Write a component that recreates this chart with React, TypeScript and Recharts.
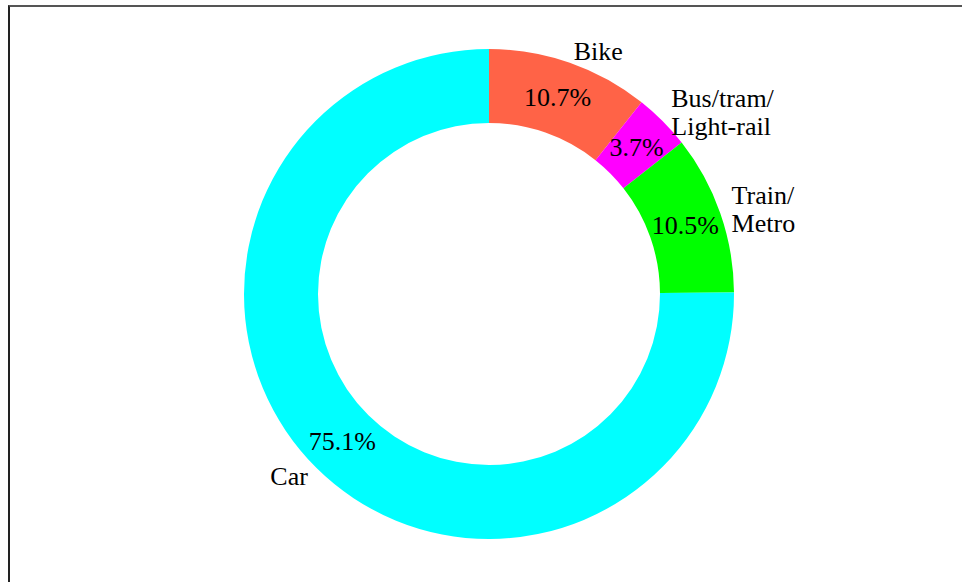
import { PieChart, Pie, Cell } from 'recharts';

const CATEGORIES = ['Bike', 'Bus/tram/\nLight-rail', 'Train/\nMetro', 'Car'];
const SHARES = [10.7, 3.7, 10.5, 75.1];
const COLORS = ['#ff6347', '#ff00ff', '#00ff00', '#00ffff'];

const data = CATEGORIES.map((name, i) => ({ name, value: SHARES[i] }));

const RAD = Math.PI / 180;
const FONT = '"Liberation Serif", "Times New Roman", serif';
const textStyle = { fontFamily: FONT, fontSize: 26, fill: '#000' };

function renderLabel(props: any) {
  const { cx, cy, midAngle, innerRadius, outerRadius, name, value } = props;
  const cos = Math.cos(-midAngle * RAD);
  const sin = Math.sin(-midAngle * RAD);

  // percentage sits in the middle of the ring
  const mr = (innerRadius + outerRadius) / 2;
  const px = cx + mr * cos;
  const py = cy + mr * sin;

  // category name just outside the ring
  const or = outerRadius + 12;
  const ox = cx + or * cos;
  const oy = cy + or * sin;
  const lines = String(name).split('\n');
  const anchor = cos >= 0 ? 'start' : 'end';

  return (
    <g>
      <text x={px} y={py} textAnchor="middle" dominantBaseline="central" style={textStyle}>
        {`${Number(value).toFixed(1)}%`}
      </text>
      {lines.map((ln, i) => (
        <text key={i} x={ox} y={oy + (i - (lines.length - 1) / 2) * 28}
          textAnchor={anchor} dominantBaseline="central" style={textStyle}>
          {ln}
        </text>
      ))}
    </g>
  );
}

export default function App() {
  return (
    <div style={{ position: 'absolute', left: 0, top: 0, width: 962, height: 582, overflow: 'hidden', background: '#fff', fontFamily: FONT }}>
      {/* frame, right/bottom edges fall outside the shot */}
      <div
        style={{
          position: 'absolute', left: 8, top: 5, width: 1000, height: 700,
          borderTop: '2px solid #555', borderLeft: '2px solid #222',
        }}
      />
      <div style={{ position: 'absolute', left: 0, top: 0 }}>
        <PieChart width={962} height={582} margin={{ top: 0, right: 0, bottom: 0, left: 0 }}>
          <Pie
            data={data}
            dataKey="value"
            nameKey="name"
            cx={489}
            cy={294}
            innerRadius={171}
            outerRadius={245}
            startAngle={90}
            endAngle={-270}
            stroke="none"
            label={renderLabel}
            labelLine={false}
            isAnimationActive={false}
          >
            {data.map((d, i) => (
              <Cell key={d.name} fill={COLORS[i]} />
            ))}
          </Pie>
        </PieChart>
      </div>
    </div>
  );
}
